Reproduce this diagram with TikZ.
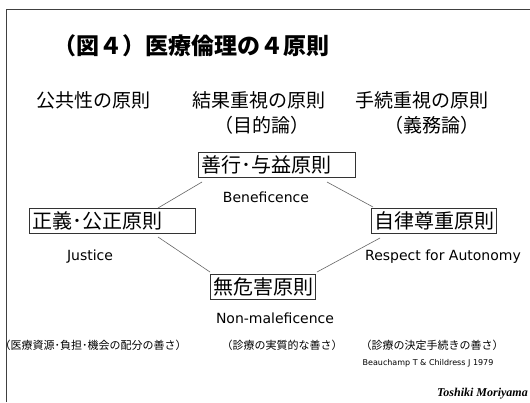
\documentclass[tikz,border=0pt]{standalone}
\usepackage{fontspec}
\setmainfont{DejaVu Sans}
\newfontfamily\jp{Noto Sans CJK JP}
\newfontfamily\ttm{Liberation Serif}
\begin{document}
\begin{tikzpicture}[x=1pt,y=-1pt,
  frameline/.style={draw=black!75,line width=1.5pt},
  boxnode/.style={draw=black!80,line width=0.8pt,inner xsep=3pt,inner ysep=0pt,minimum height=25pt,align=left,font=\jp\fontsize{20}{22}\selectfont},
  head/.style={font=\jp\fontsize{19}{21}\selectfont,inner sep=0pt},
  eng/.style={font=\fontsize{14}{16}\selectfont,inner sep=0pt},
  note/.style={font=\jp\fontsize{11}{13}\selectfont,inner sep=0pt},
  conn/.style={draw=black!60,line width=0.6pt}]
\useasboundingbox (0,0) rectangle (530,402);
\fill[white] (0,0) rectangle (530,402);
\draw[frameline] (6.5,402) -- (6.5,9.5) -- (530,9.5);
% title
\node[font=\jp\bfseries\fontsize{23}{25}\selectfont,inner sep=0pt] (title) at (191,46) {（図４）医療倫理の４原則};
% headers
\node[head] (h1) at (93,100) {公共性の原則};
\node[head] (h2) at (259,100) {結果重視の原則};
\node[head] (h2b) at (262,125) {（目的論）};
\node[head] (h3) at (422,100) {手続重視の原則};
\node[head] (h3b) at (432,125) {（義務論）};
% boxes
\node[boxnode,text width=151pt] (ben) at (276.5,164.5) {善行･与益原則};
\node[boxnode,text width=160pt] (jus) at (112,221) {正義･公正原則};
\node[boxnode,text width=119pt] (aut) at (433.5,221) {自律尊重原則};
\node[boxnode,text width=99pt] (non) at (262.5,287) {無危害原則};
% english labels
\node[eng] (ben-e) at (266,197) {Beneficence};
\node[eng] (jus-e) at (90,257) {Justice};
\node[eng] (aut-e) at (443,257) {Respect for Autonomy};
\node[eng] (non-e) at (275,318) {Non-maleficence};
% connectors
\coordinate (c1a) at (202,182); \coordinate (c1b) at (158,208);
\coordinate (c2a) at (327,182); \coordinate (c2b) at (373,207);
\coordinate (c3a) at (158,237); \coordinate (c3b) at (210,272);
\coordinate (c4a) at (380,238); \coordinate (c4b) at (317,272);
\draw[conn] (c1a) -- (c1b);
\draw[conn] (c2a) -- (c2b);
\draw[conn] (c3a) -- (c3b);
\draw[conn] (c4a) -- (c4b);
% bottom notes
\node[note] (n1) at (93,345) {（医療資源･負担･機会の配分の善さ）};
\node[note] (n2) at (282,345) {（診療の実質的な善さ）};
\node[note] (n3) at (432,345) {（診療の決定手続きの善さ）};
\node[font=\fontsize{8}{10}\selectfont,inner sep=0pt] (ref) at (428,363) {Beauchamp T \& Childress J 1979};
\node[font=\ttm\bfseries\itshape\fontsize{12}{14}\selectfont,inner sep=0pt,anchor=east] (auth) at (528,394) {Toshiki Moriyama};
\end{tikzpicture}
\end{document}
